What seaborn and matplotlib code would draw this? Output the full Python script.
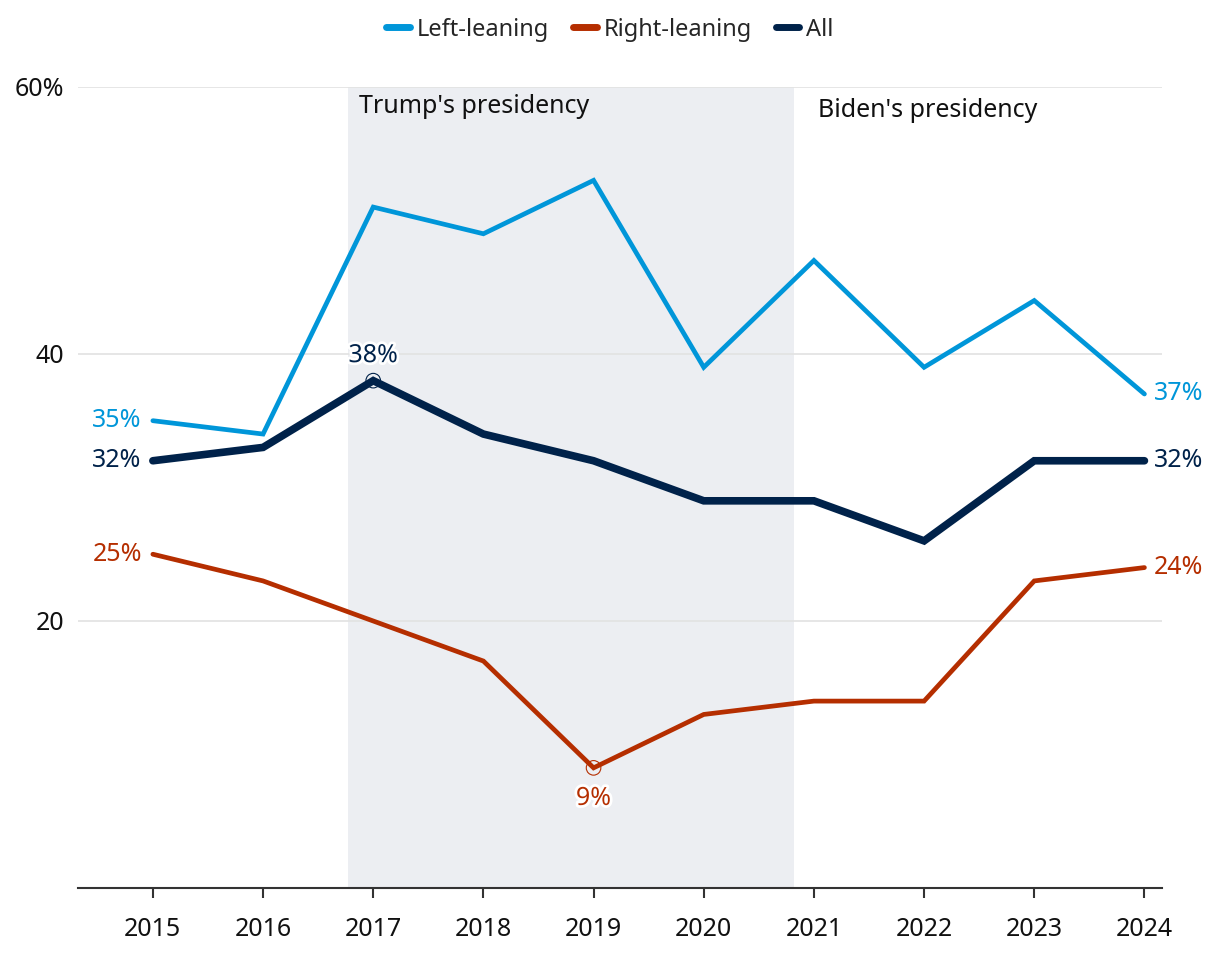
import matplotlib
matplotlib.use("Agg")
import matplotlib.pyplot as plt
import matplotlib.patheffects as pe
from matplotlib.lines import Line2D
import seaborn as sns
import pandas as pd

years = [2015, 2016, 2017, 2018, 2019, 2020, 2021, 2022, 2023, 2024]
left_leaning = [35, 34, 51, 49, 53, 39, 47, 39, 44, 37]
right_leaning = [25, 23, 20, 17, 9, 13, 14, 14, 23, 24]
all_share = [32, 33, 38, 34, 32, 29, 29, 26, 32, 32]

series_names = ["Left-leaning", "Right-leaning", "All"]
colors = {"Left-leaning": "#0096d9", "Right-leaning": "#b52e00", "All": "#00224a"}
widths = {"Left-leaning": 3.4, "Right-leaning": 3.4, "All": 5.5}

trump_span = (2016.77, 2020.82)
y_ticks = [20, 40, 60]
y_tick_labels = ["20", "40", "60%"]

df = pd.DataFrame({
    "year": years * 3,
    "value": left_leaning + right_leaning + all_share,
    "series": ["Left-leaning"] * 10 + ["Right-leaning"] * 10 + ["All"] * 10,
})

sns.set_style("white")
plt.rcParams["font.family"] = ["Noto Sans", "DejaVu Sans"]

fs = 18

fig = plt.figure(figsize=(12.2, 9.56), dpi=100)
ax = fig.add_axes([0.0639, 0.0711, 0.8886, 0.838])

ax.axvspan(*trump_span, color="#eceef2", zorder=0, lw=0)

for name in series_names:
    sub = df[df["series"] == name]
    sns.lineplot(data=sub, x="year", y="value", color=colors[name], lw=widths[name],
                 ax=ax, legend=False, zorder=3 if name == "All" else 2,
                 solid_capstyle="round", solid_joinstyle="miter")

halo = [pe.withStroke(linewidth=4, foreground="white")]

# end labels
for name, vals in zip(series_names, [left_leaning, right_leaning, all_share]):
    ax.annotate(f"{vals[0]}%", (years[0], vals[0]), xytext=(-8, 0), textcoords="offset points",
                ha="right", va="center", color=colors[name], fontsize=fs)
    ax.annotate(f"{vals[-1]}%", (years[-1], vals[-1]), xytext=(7, 0), textcoords="offset points",
                ha="left", va="center", color=colors[name], fontsize=fs)

# highlighted points
ax.scatter([2017], [all_share[2]], s=110, facecolors="none", edgecolors=colors["All"], lw=0.8, zorder=4)
ax.annotate(f"{all_share[2]}%", (2017, all_share[2]), xytext=(0, 9), textcoords="offset points",
            ha="center", va="bottom", color=colors["All"], fontsize=fs, path_effects=halo)
ax.scatter([2019], [right_leaning[4]], s=110, facecolors="none", edgecolors=colors["Right-leaning"], lw=0.8, zorder=4)
ax.annotate(f"{right_leaning[4]}%", (2019, right_leaning[4]), xytext=(0, -13), textcoords="offset points",
            ha="center", va="top", color=colors["Right-leaning"], fontsize=fs, path_effects=halo)

ax.text(trump_span[0] + 0.1, 58.5, "Trump's presidency", ha="left", va="center", fontsize=fs, color="#111111")
ax.text(2021.04, 58.2, "Biden's presidency", ha="left", va="center", fontsize=fs, color="#111111")

ax.set_xlim(2014.32, 2024.16)
ax.set_ylim(0, 60)
ax.set_xticks(years)
ax.set_xticklabels([str(y) for y in years], fontsize=fs, color="#111111")
ax.set_yticks(y_ticks)
ax.set_yticklabels(y_tick_labels, fontsize=fs, color="#111111")
ax.yaxis.grid(True, color="#e2e2e2", lw=1.2, zorder=1)
ax.set_axisbelow(True)
ax.tick_params(axis="y", length=0, pad=10)
ax.tick_params(axis="x", length=7, width=1.5, color="#333333", pad=14, direction="out", bottom=True)
for side in ["left", "right", "top"]:
    ax.spines[side].set_visible(False)
ax.spines["bottom"].set_color("#333333")
ax.spines["bottom"].set_linewidth(1.5)
ax.set_xlabel("")
ax.set_ylabel("")

handles = [Line2D([0], [0], color=colors[n], lw=5, solid_capstyle="round") for n in series_names]
fig.legend(handles, series_names, loc="center", bbox_to_anchor=(0.5, 0.969), ncol=3, frameon=False,
           fontsize=17, handlelength=1.0, handletextpad=0.3, columnspacing=1.0)

fig.savefig("out.png", dpi=100)
